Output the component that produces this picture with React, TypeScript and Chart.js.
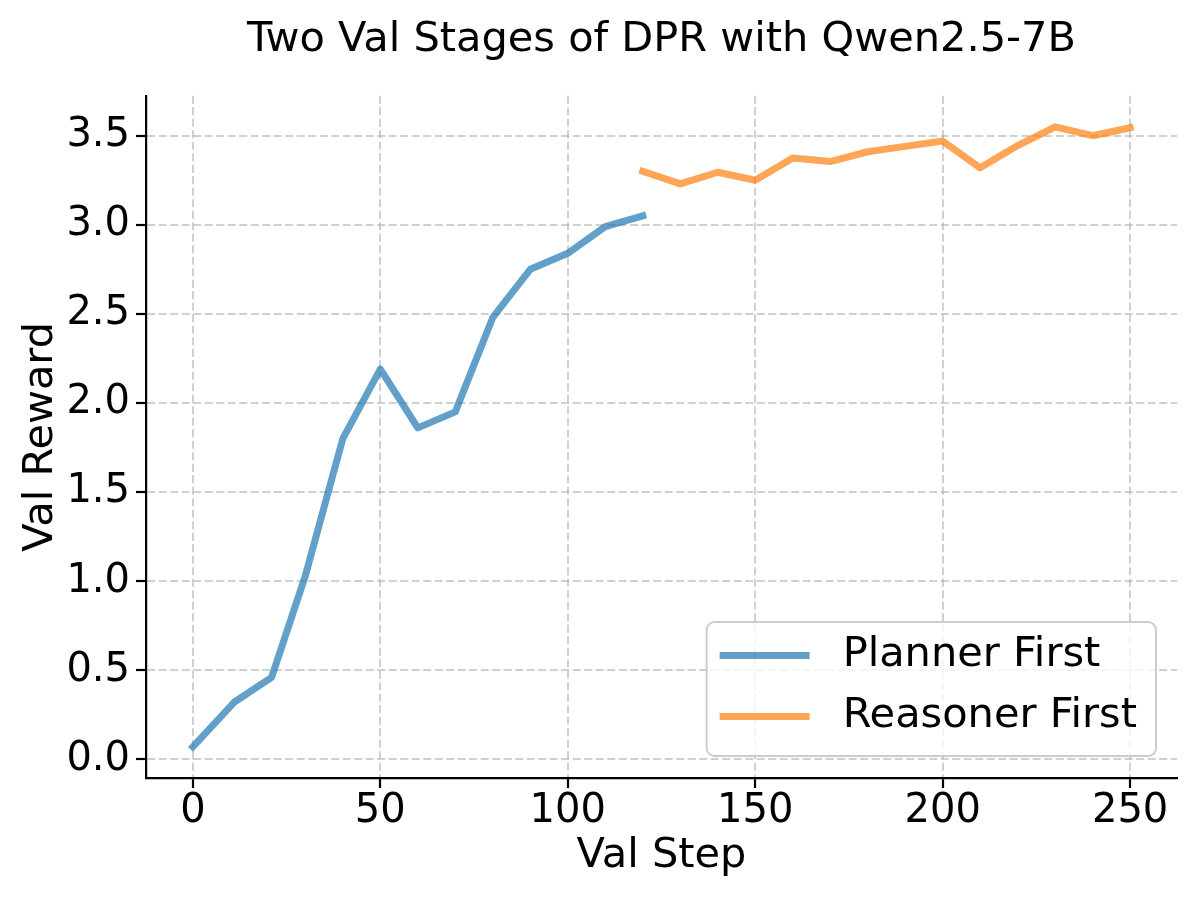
import { useEffect, useRef } from "react";
import { Chart, registerables } from "chart.js";

Chart.register(...registerables);

const FONT = "'DejaVu Sans', sans-serif";

const chartTitle = "Two Val Stages of DPR with Qwen2.5-7B";
const xAxisLabel = "Val Step";
const yAxisLabel = "Val Reward";
const seriesLabels = ["Planner First", "Reasoner First"];

const plannerSteps = [0, 11, 21, 30, 40, 50, 60, 70, 80, 90, 100, 110, 120];
const plannerReward = [0.07, 0.32, 0.46, 1.03, 1.8, 2.19, 1.86, 1.95, 2.48, 2.75, 2.84, 2.99, 3.05];

const reasonerSteps = [120, 130, 140, 150, 160, 170, 180, 190, 200, 210, 220, 230, 240, 250];
const reasonerReward = [3.3, 3.23, 3.295, 3.25, 3.375, 3.355, 3.41, 3.44, 3.47, 3.32, 3.445, 3.55, 3.5, 3.545];

const xTicks = [0, 50, 100, 150, 200, 250];
const yTicks = [0, 0.5, 1.0, 1.5, 2.0, 2.5, 3.0, 3.5];

const LABEL_SIZE = 41.5;
const TICK_SIZE = 40;

const cornerLegend = {
  id: "cornerLegend",
  afterDraw(chart: any) {
    const ctx = chart.ctx as CanvasRenderingContext2D;
    const area = chart.chartArea;
    ctx.save();
    ctx.font = `${LABEL_SIZE}px ${FONT}`;
    const datasets = chart.data.datasets;
    const textW = Math.max(...datasets.map((d: any) => ctx.measureText(d.label).width));
    const padL = 13, handle = 90, gap = 33, padR = 19, boxH = 134, rowGap = 61, firstRow = 33.5;
    const w = padL + handle + gap + textW + padR;
    const right = area.right - 21;
    const bottom = area.bottom - 22;
    const left = right - w;
    const top = bottom - boxH;
    ctx.beginPath();
    (ctx as any).roundRect(left, top, w, boxH, 8);
    ctx.fillStyle = "rgba(255,255,255,0.8)";
    ctx.fill();
    ctx.lineWidth = 2;
    ctx.strokeStyle = "#cccccc";
    ctx.stroke();
    datasets.forEach((ds: any, i: number) => {
      const y = top + firstRow + i * rowGap;
      ctx.beginPath();
      ctx.moveTo(left + padL, y);
      ctx.lineTo(left + padL + handle, y);
      ctx.strokeStyle = ds.borderColor;
      ctx.lineWidth = 7;
      ctx.lineCap = "butt";
      ctx.stroke();
      ctx.fillStyle = "#000";
      ctx.textBaseline = "middle";
      ctx.textAlign = "left";
      ctx.fillText(ds.label, left + padL + handle + gap, y);
    });
    ctx.restore();
  },
};

export default function App() {
  const canvasRef = useRef<HTMLCanvasElement | null>(null);

  useEffect(() => {
    document.body.style.margin = "0";
    const canvas = canvasRef.current;
    if (!canvas) return;
    Chart.defaults.font.family = FONT;
    Chart.defaults.color = "#000";

    const gridCommon = {
      color: "rgba(176,176,176,0.6)",
      lineWidth: 2,
      tickColor: "#000",
      tickWidth: 2.2,
      tickLength: 10,
      tickBorderDash: [],
    };
    const borderCommon = { display: true, color: "#000", width: 2.2, dash: [8, 3.5] };

    const chart = new Chart(canvas, {
      type: "line",
      data: {
        datasets: [
          {
            label: seriesLabels[0],
            data: plannerSteps.map((x, i) => ({ x, y: plannerReward[i] })),
            borderColor: "rgba(31,119,180,0.7)",
            backgroundColor: "rgba(31,119,180,0.7)",
            borderWidth: 7,
            pointRadius: 0,
            tension: 0,
            borderJoinStyle: "round",
            borderCapStyle: "square",
          },
          {
            label: seriesLabels[1],
            data: reasonerSteps.map((x, i) => ({ x, y: reasonerReward[i] })),
            borderColor: "rgba(255,127,14,0.7)",
            backgroundColor: "rgba(255,127,14,0.7)",
            borderWidth: 7,
            pointRadius: 0,
            tension: 0,
            borderJoinStyle: "round",
            borderCapStyle: "square",
          },
        ],
      },
      options: {
        animation: false,
        responsive: false,
        devicePixelRatio: 1,
        layout: { padding: { left: 0, right: 23, top: 0, bottom: 0 } },
        plugins: {
          legend: { display: false },
          tooltip: { enabled: false },
          title: {
            display: true,
            text: chartTitle,
            fullSize: false,
            color: "#000",
            font: { size: LABEL_SIZE, family: FONT, weight: "normal", lineHeight: 1.2 },
            padding: { top: 15, bottom: 31 },
          },
        },
        scales: {
          x: {
            type: "linear",
            min: -12.5,
            max: 262.5,
            grid: gridCommon,
            border: borderCommon,
            ticks: {
              includeBounds: false,
              padding: 0,
              color: "#000",
              font: { size: TICK_SIZE, family: FONT, lineHeight: 1.2 },
              callback: (v: any) => String(v),
              maxRotation: 0,
            },
            afterBuildTicks: (scale: any) => {
              scale.ticks = xTicks.map((v) => ({ value: v }));
            },
            afterFit: (scale: any) => {
              scale.height = 122;
            },
            title: {
              display: true,
              text: xAxisLabel,
              color: "#000",
              font: { size: LABEL_SIZE, family: FONT, lineHeight: 1.2 },
              padding: { top: 0, bottom: 19 },
            },
          },
          y: {
            type: "linear",
            min: -0.105,
            max: 3.724,
            grid: gridCommon,
            border: borderCommon,
            ticks: {
              includeBounds: false,
              padding: 6,
              color: "#000",
              font: { size: TICK_SIZE, family: FONT, lineHeight: 1.2 },
              callback: (v: any) => Number(v).toFixed(1),
            },
            afterBuildTicks: (scale: any) => {
              scale.ticks = yTicks.map((v) => ({ value: v }));
            },
            afterFit: (scale: any) => {
              scale.width = 146;
            },
            title: {
              display: true,
              text: yAxisLabel,
              color: "#000",
              font: { size: LABEL_SIZE, family: FONT, lineHeight: 1.2 },
              padding: { top: 16, bottom: 0 },
            },
          },
        },
      },
      plugins: [cornerLegend],
    } as any);

    return () => {
      chart.destroy();
    };
  }, []);

  return (
    <div style={{ width: 1200, height: 900, background: "#fff" }}>
      <canvas ref={canvasRef} width={1200} height={900} style={{ display: "block", width: 1200, height: 900 }} />
    </div>
  );
}
